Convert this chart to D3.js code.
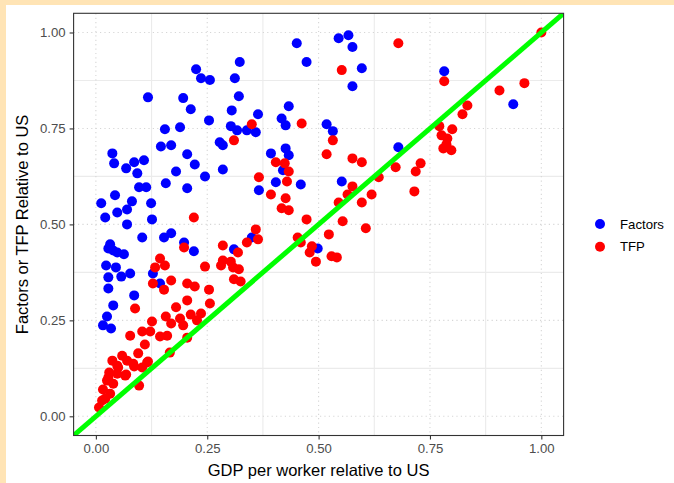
<!DOCTYPE html>
<html>
<head>
<meta charset="utf-8">
<script src="https://cdn.jsdelivr.net/npm/d3@7"></script>
<style>
  body { margin: 0; background: #fff; }
  svg text { font-family: "Liberation Sans", Arial, sans-serif; }
</style>
</head>
<body>
<div id="chart"></div>
<script>
// Factors relative to US (blue)
const factorsX = [0.451, 0.545, 0.567, 0.576, 0.473, 0.597, 0.576, 0.782, 0.937, 0.225,
  0.236, 0.256, 0.312, 0.323, 0.117, 0.196, 0.213, 0.321, 0.305, 0.254,
  0.155, 0.189, 0.303, 0.317, 0.339, 0.359, 0.364, 0.433, 0.417, 0.426,
  0.518, 0.532, 0.146, 0.169, 0.278, 0.285, 0.205, 0.222, 0.180, 0.245,
  0.285, 0.037, 0.041, 0.068, 0.086, 0.093, 0.108, 0.097, 0.113, 0.043,
  0.157, 0.205, 0.012, 0.081, 0.124, 0.393, 0.426, 0.433, 0.420, 0.404,
  0.366, 0.460, 0.679, 0.552, 0.021, 0.048, 0.070, 0.070, 0.126, 0.104,
  0.153, 0.169, 0.198, 0.220, 0.028, 0.048, 0.063, 0.023, 0.045, 0.028,
  0.057, 0.077, 0.128, 0.144, 0.028, 0.086, 0.039, 0.025, 0.016, 0.034,
  0.310, 0.350, 0.498, 0.039, 0.032];
const factorsY = [0.972, 0.985, 0.993, 0.962, 0.923, 0.907, 0.860, 0.899, 0.813, 0.904,
  0.881, 0.876, 0.881, 0.923, 0.831, 0.829, 0.800, 0.834, 0.797, 0.771,
  0.748, 0.753, 0.756, 0.745, 0.745, 0.740, 0.787, 0.808, 0.776, 0.758,
  0.761, 0.743, 0.703, 0.706, 0.714, 0.706, 0.683, 0.656, 0.638, 0.625,
  0.643, 0.685, 0.659, 0.646, 0.662, 0.633, 0.667, 0.597, 0.597, 0.576,
  0.607, 0.594, 0.555, 0.560, 0.555, 0.685, 0.698, 0.680, 0.641, 0.610,
  0.589, 0.604, 0.701, 0.612, 0.518, 0.531, 0.539, 0.500, 0.513, 0.466,
  0.466, 0.477, 0.453, 0.430, 0.437, 0.427, 0.422, 0.393, 0.388, 0.362,
  0.364, 0.372, 0.372, 0.346, 0.333, 0.315, 0.289, 0.260, 0.237, 0.229,
  0.435, 0.466, 0.437, 0.432, 0.448];

// TFP relative to US (red)
const tfpX = [1.000, 0.962, 0.906, 0.782, 0.834, 0.823, 0.771, 0.800, 0.776, 0.789,
  0.787, 0.780, 0.798, 0.679, 0.552, 0.462, 0.532, 0.518, 0.576, 0.597,
  0.729, 0.718, 0.673, 0.635, 0.576, 0.619, 0.715, 0.565, 0.545, 0.597,
  0.473, 0.554, 0.606, 0.523, 0.485, 0.480, 0.529, 0.541, 0.494, 0.453,
  0.460, 0.350, 0.310, 0.366, 0.404, 0.424, 0.433, 0.429, 0.393, 0.426,
  0.417, 0.433, 0.220, 0.198, 0.144, 0.155, 0.133, 0.128, 0.153, 0.169,
  0.205, 0.222, 0.245, 0.254, 0.285, 0.285, 0.281, 0.303, 0.308, 0.321,
  0.319, 0.339, 0.359, 0.364, 0.310, 0.325, 0.205, 0.180, 0.088, 0.157,
  0.189, 0.213, 0.236, 0.256, 0.227, 0.169, 0.196, 0.126, 0.104, 0.122,
  0.077, 0.144, 0.160, 0.205, 0.110, 0.095, 0.115, 0.166, 0.059, 0.084,
  0.037, 0.048, 0.068, 0.097, 0.030, 0.025, 0.039, 0.016, 0.032, 0.014,
  0.007, 0.070, 0.104, 0.117, 0.086, 0.050, 0.028, 0.048, 0.066, 0.021];
const tfpY = [1.000, 0.868, 0.849, 0.873, 0.810, 0.787, 0.756, 0.748, 0.732, 0.724,
  0.709, 0.698, 0.693, 0.972, 0.902, 0.763, 0.719, 0.683, 0.672, 0.662,
  0.659, 0.638, 0.649, 0.623, 0.599, 0.578, 0.586, 0.578, 0.557, 0.557,
  0.513, 0.508, 0.490, 0.474, 0.443, 0.427, 0.417, 0.414, 0.403, 0.466,
  0.453, 0.761, 0.719, 0.623, 0.662, 0.659, 0.638, 0.612, 0.578, 0.568,
  0.542, 0.537, 0.518, 0.440, 0.411, 0.393, 0.388, 0.346, 0.330, 0.354,
  0.346, 0.338, 0.390, 0.330, 0.445, 0.406, 0.393, 0.403, 0.388, 0.383,
  0.427, 0.453, 0.487, 0.461, 0.357, 0.351, 0.302, 0.284, 0.281, 0.260,
  0.255, 0.265, 0.268, 0.294, 0.250, 0.242, 0.237, 0.247, 0.221, 0.221,
  0.210, 0.208, 0.210, 0.205, 0.187, 0.164, 0.140, 0.166, 0.158, 0.137,
  0.145, 0.132, 0.109, 0.080, 0.114, 0.093, 0.085, 0.070, 0.059, 0.041,
  0.023, 0.145, 0.127, 0.143, 0.130, 0.127, 0.101, 0.111, 0.106, 0.046];

const tickValues = [0, 0.25, 0.5, 0.75, 1];
const minorTicks = [0.125, 0.375, 0.625, 0.875];
const seriesNames = ["Factors", "TFP"];
const seriesColors = ["#0000FF", "#FF0000"];

const width = 674, height = 483;
const panel = { left: 73.6, top: 13.3, right: 563.6, bottom: 435.5 };

const svg = d3.select("#chart").append("svg")
  .attr("width", width)
  .attr("height", height);

// page frame
svg.append("rect").attr("width", width).attr("height", height).attr("fill", "#FFE4B5");
svg.append("rect").attr("x", 6).attr("y", 5).attr("width", width - 6).attr("height", height - 5).attr("fill", "#fff");

const x = d3.scaleLinear().domain([-0.05, 1.05]).range([panel.left, panel.right]);
const y = d3.scaleLinear().domain([-0.05, 1.05]).range([panel.bottom, panel.top]);

svg.append("clipPath").attr("id", "panel-clip")
  .append("rect")
  .attr("x", panel.left).attr("y", panel.top)
  .attr("width", panel.right - panel.left).attr("height", panel.bottom - panel.top);

const grid = svg.append("g");

// minor gridlines, solid
grid.selectAll(".minor-x").data(minorTicks).enter().append("line")
  .attr("x1", d => x(d)).attr("x2", d => x(d))
  .attr("y1", panel.top).attr("y2", panel.bottom)
  .attr("stroke", "#EBEBEB").attr("stroke-width", 1.1);
grid.selectAll(".minor-y").data(minorTicks).enter().append("line")
  .attr("y1", d => y(d)).attr("y2", d => y(d))
  .attr("x1", panel.left).attr("x2", panel.right)
  .attr("stroke", "#EBEBEB").attr("stroke-width", 1.1);

// major gridlines, dotted
grid.selectAll(".major-x").data(tickValues).enter().append("line")
  .attr("x1", d => x(d)).attr("x2", d => x(d))
  .attr("y1", panel.top).attr("y2", panel.bottom)
  .attr("stroke", "#D6D6D6").attr("stroke-width", 1.1)
  .attr("stroke-dasharray", "1.2,3.2");
grid.selectAll(".major-y").data(tickValues).enter().append("line")
  .attr("y1", d => y(d)).attr("y2", d => y(d))
  .attr("x1", panel.left).attr("x2", panel.right)
  .attr("stroke", "#D6D6D6").attr("stroke-width", 1.1)
  .attr("stroke-dasharray", "1.2,3.2");

const plot = svg.append("g").attr("clip-path", "url(#panel-clip)");

const factors = factorsX.map((v, i) => ({ x: v, y: factorsY[i] }));
const tfp = tfpX.map((v, i) => ({ x: v, y: tfpY[i] }));

plot.selectAll(".factors").data(factors).enter().append("circle")
  .attr("cx", d => x(d.x)).attr("cy", d => y(d.y)).attr("r", 5)
  .attr("fill", seriesColors[0]);

plot.selectAll(".tfp").data(tfp).enter().append("circle")
  .attr("cx", d => x(d.x)).attr("cy", d => y(d.y)).attr("r", 5)
  .attr("fill", seriesColors[1]);

// 45 degree line
plot.append("line")
  .attr("x1", x(-0.05)).attr("y1", y(-0.05))
  .attr("x2", x(1.05)).attr("y2", y(1.05))
  .attr("stroke", "#00FF00").attr("stroke-width", 5);

// panel border
svg.append("rect")
  .attr("x", panel.left).attr("y", panel.top)
  .attr("width", panel.right - panel.left).attr("height", panel.bottom - panel.top)
  .attr("fill", "none").attr("stroke", "#333333").attr("stroke-width", 1.1);

const fmt = d3.format(".2f");

const xAxis = svg.append("g")
  .attr("transform", `translate(0,${panel.bottom})`)
  .call(d3.axisBottom(x).tickValues(tickValues).tickFormat(fmt).tickSize(4).tickPadding(4));
const yAxis = svg.append("g")
  .attr("transform", `translate(${panel.left},0)`)
  .call(d3.axisLeft(y).tickValues(tickValues).tickFormat(fmt).tickSize(4).tickPadding(4));

[xAxis, yAxis].forEach(a => {
  a.select(".domain").remove();
  a.selectAll(".tick line").attr("stroke", "#333333").attr("stroke-width", 1.1);
  a.selectAll(".tick text").attr("fill", "#4D4D4D")
    .style("font-size", "13.2px").style("font-family", '"Liberation Sans", Arial, sans-serif');
});

// axis titles
svg.append("text")
  .attr("x", (panel.left + panel.right) / 2).attr("y", 476)
  .attr("text-anchor", "middle").attr("fill", "#000")
  .style("font-size", "16.5px")
  .text("GDP per worker relative to US");

svg.append("text")
  .attr("transform", `translate(28,${(panel.top + panel.bottom) / 2}) rotate(-90)`)
  .attr("text-anchor", "middle").attr("fill", "#000")
  .style("font-size", "16.5px")
  .text("Factors or TFP Relative to US");

// legend
const legend = svg.append("g").attr("transform", "translate(600,224)");
seriesNames.forEach((name, i) => {
  const row = legend.append("g").attr("transform", `translate(0,${i * 22.7})`);
  row.append("circle").attr("r", 5).attr("fill", seriesColors[i]);
  row.append("text").attr("x", 20).attr("dy", "0.35em")
    .attr("fill", "#000").style("font-size", "13.2px").text(name);
});
</script>
</body>
</html>
